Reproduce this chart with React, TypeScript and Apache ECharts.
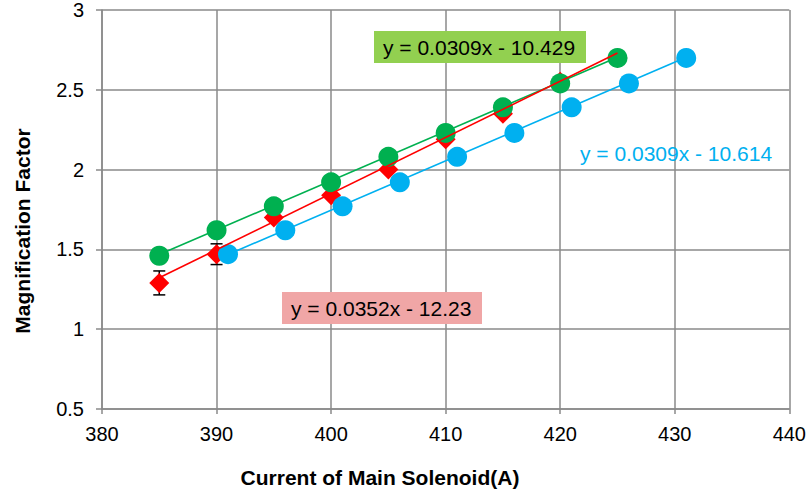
import React, { useEffect, useRef } from "react";
import * as echarts from "echarts";

const xTicks = [380, 390, 400, 410, 420, 430, 440];
const yTicks = [0.5, 1, 1.5, 2, 2.5, 3];

const xGreen = [385, 390, 395, 400, 405, 410, 415, 420, 425];
const yGreen = [1.46, 1.62, 1.77, 1.92, 2.08, 2.23, 2.39, 2.54, 2.7];

const xBlue = [391, 396, 401, 406, 411, 416, 421, 426, 431];
const yBlue = [1.47, 1.62, 1.77, 1.92, 2.08, 2.23, 2.39, 2.54, 2.7];

const xRed = [385, 390, 395, 400, 405, 410, 415, 420, 425];
const yRed = [1.29, 1.47, 1.7, 1.84, 2.0, 2.19, 2.35, 2.55, 2.7];
const errRed = [0.075, 0.065, 0, 0, 0, 0, 0, 0, 0];

// trendline coefficients [slope, intercept] as printed on the chart
const trendGreen = [0.0309, -10.429];
const trendBlue = [0.0309, -10.614];
const trendRed = [0.0352, -12.23];

const labelGreen = "y = 0.0309x - 10.429";
const labelBlue = "y = 0.0309x - 10.614";
const labelRed = "y = 0.0352x - 12.23";

const C_GREEN = "#00B050";
const C_BLUE = "#00B0F0";
const C_RED = "#FF0000";
const FONT = "'Liberation Sans', Arial, sans-serif";

function pairs(xs: number[], ys: number[]) {
  return xs.map((x, i) => [x, ys[i]]);
}
function trend(coef: number[], xs: number[]) {
  const a = xs[0];
  const b = xs[xs.length - 1];
  return [
    [a, coef[0] * a + coef[1]],
    [b, coef[0] * b + coef[1]],
  ];
}

export default function App() {
  const ref = useRef<HTMLDivElement>(null);
  useEffect(() => {
    if (!ref.current) return;
    const chart = echarts.init(ref.current, undefined, { renderer: "svg" });
    const errData = xRed
      .map((x, i) => [x, yRed[i] - errRed[i], yRed[i] + errRed[i], errRed[i]])
      .filter((d) => d[3] > 0);
    chart.setOption({
      animation: false,
      grid: { left: 102, right: 17, top: 6, bottom: 83, containLabel: false },
      xAxis: {
        type: "value",
        min: xTicks[0],
        max: xTicks[xTicks.length - 1],
        interval: 10,
        axisLine: { show: true, lineStyle: { color: "#8a8a8a", width: 1.5 } },
        axisTick: { show: true, length: 5, lineStyle: { color: "#8a8a8a", width: 1.5 } },
        splitLine: { show: true, lineStyle: { color: "#8a8a8a", width: 1.5 } },
        axisLabel: { color: "#000", fontSize: 20, fontFamily: FONT, margin: 15 },
      },
      yAxis: {
        type: "value",
        min: yTicks[0],
        max: yTicks[yTicks.length - 1],
        interval: 0.5,
        axisLine: { show: true, lineStyle: { color: "#8a8a8a", width: 1.5 } },
        axisTick: { show: true, length: 6, lineStyle: { color: "#8a8a8a", width: 1.5 } },
        splitLine: { show: true, lineStyle: { color: "#8a8a8a", width: 1.5 } },
        axisLabel: { color: "#000", fontSize: 20, fontFamily: FONT, margin: 18 },
      },
      series: [
        {
          type: "custom",
          z: 1,
          data: errData,
          renderItem: (params: any, api: any) => {
            const x = api.value(0);
            const lo = api.coord([x, api.value(1)]);
            const hi = api.coord([x, api.value(2)]);
            const w = 6;
            const st = { stroke: "#000", lineWidth: 1.5 };
            return {
              type: "group",
              children: [
                { type: "line", shape: { x1: lo[0], y1: lo[1], x2: hi[0], y2: hi[1] }, style: st },
                { type: "line", shape: { x1: lo[0] - w, y1: lo[1], x2: lo[0] + w, y2: lo[1] }, style: st },
                { type: "line", shape: { x1: hi[0] - w, y1: hi[1], x2: hi[0] + w, y2: hi[1] }, style: st },
              ],
            };
          },
        },
        {
          type: "scatter",
          z: 2,
          symbol: "diamond",
          symbolSize: 20,
          itemStyle: { color: C_RED, opacity: 1 },
          data: pairs(xRed, yRed),
        },
        {
          type: "scatter",
          z: 3,
          symbol: "circle",
          symbolSize: 20,
          itemStyle: { color: C_BLUE, opacity: 1 },
          data: pairs(xBlue, yBlue),
        },
        {
          type: "scatter",
          z: 4,
          symbol: "circle",
          symbolSize: 20,
          itemStyle: { color: C_GREEN, opacity: 1 },
          data: pairs(xGreen, yGreen),
        },
        {
          type: "line",
          z: 5,
          showSymbol: false,
          symbol: "none",
          lineStyle: { color: C_GREEN, width: 1.6 },
          data: trend(trendGreen, xGreen),
        },
        {
          type: "line",
          z: 5,
          showSymbol: false,
          symbol: "none",
          lineStyle: { color: C_BLUE, width: 1.6 },
          data: trend(trendBlue, xBlue),
        },
        {
          type: "line",
          z: 6,
          showSymbol: false,
          symbol: "none",
          lineStyle: { color: C_RED, width: 1.6 },
          data: trend(trendRed, xRed),
        },
      ],
      graphic: [
        { type: "rect", z: 100, shape: { x: 374, y: 31, width: 212, height: 32 }, style: { fill: "#92D050" } },
        {
          type: "text",
          z: 101,
          x: 383,
          y: 47,
          style: { text: labelGreen, fill: "#000", fontSize: 21, fontFamily: FONT, verticalAlign: "middle", align: "left" },
        },
        { type: "rect", z: 100, shape: { x: 282, y: 292, width: 200, height: 32 }, style: { fill: "#F0A6A6" } },
        {
          type: "text",
          z: 101,
          x: 291,
          y: 308,
          style: { text: labelRed, fill: "#000", fontSize: 21, fontFamily: FONT, verticalAlign: "middle", align: "left" },
        },
        {
          type: "text",
          z: 101,
          x: 580,
          y: 153,
          style: { text: labelBlue, fill: C_BLUE, fontSize: 21, fontFamily: FONT, verticalAlign: "middle", align: "left" },
        },
        {
          type: "text",
          z: 101,
          x: 380,
          y: 477,
          style: {
            text: "Current of Main Solenoid(A)",
            fill: "#000",
            fontSize: 21,
            fontWeight: "bold",
            fontFamily: FONT,
            verticalAlign: "middle",
            align: "center",
          },
        },
        {
          type: "text",
          z: 101,
          x: 22,
          y: 231,
          rotation: Math.PI / 2,
          style: {
            text: "Magnification Factor",
            fill: "#000",
            fontSize: 21,
            fontWeight: "bold",
            fontFamily: FONT,
            verticalAlign: "middle",
            align: "center",
          },
        },
      ],
    });
    return () => chart.dispose();
  }, []);
  return <div ref={ref} style={{ width: 809, height: 492, position: "absolute", left: 0, top: 0 }} />;
}
